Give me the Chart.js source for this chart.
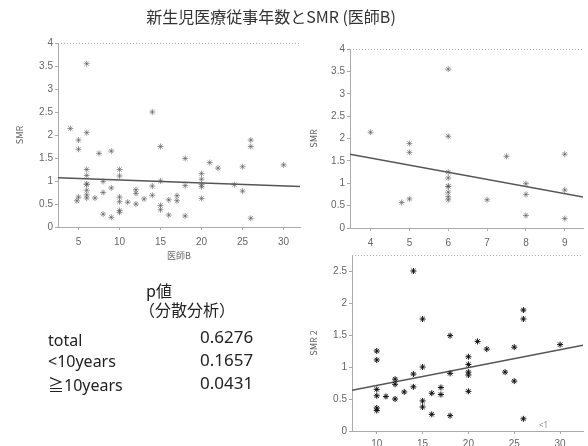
<!DOCTYPE html>
<html>
<head>
<meta charset="utf-8">
<script src="https://cdn.jsdelivr.net/npm/chart.js@4/dist/chart.umd.min.js"></script>
<style>
  body { margin: 0; background: #fff; }
  #wrap { position: relative; width: 588px; height: 446px; overflow: hidden; }
  canvas { position: absolute; left: 0; top: 0; }
  .t { position: absolute; white-space: nowrap; color: #222; line-height: 1; font-family: "Noto Sans", "Noto Sans CJK JP", sans-serif; font-size: 16px; }
  .num { font-size: 17px; }
</style>
</head>
<body>
<div id="wrap">
  <canvas id="allChart" width="588" height="446"></canvas>
  <canvas id="underChart" width="588" height="446"></canvas>
  <canvas id="overChart" width="588" height="446"></canvas>

  <div class="t" style="left:0;width:542px;top:8px;text-align:center;color:#333;font-family:'Noto Sans CJK JP',sans-serif;">新生児医療従事年数とSMR (医師B)</div>

  <div class="t" style="left:146px;top:282px;font-family:'Noto Sans CJK JP',sans-serif;">p値</div>
  <div class="t" style="left:139px;top:301px;font-family:'Noto Sans CJK JP',sans-serif;">（分散分析）</div>
  <div class="t" style="left:48px;top:332px;">total</div>
  <div class="t num" style="left:200px;top:328px;">0.6276</div>
  <div class="t" style="left:48px;top:353px;">&lt;10years</div>
  <div class="t num" style="left:200px;top:351px;">0.1657</div>
  <div class="t" style="left:48px;top:377px;">≧10years</div>
  <div class="t num" style="left:200px;top:374px;">0.0431</div>
  <div class="t" style="left:539px;top:421px;font-size:8px;color:#888;">&lt;1</div>
</div>

<script>
  // 医療従事年数 < 10
  const under10X = [4, 4.8, 5, 5, 5, 6, 6, 6, 6, 6, 6, 6, 6, 6, 7, 7.5, 8, 8, 8, 9, 9, 9];
  const under10Y = [2.14, 0.57, 1.89, 1.69, 0.65, 3.55, 2.05, 1.25, 1.12, 0.93, 0.93, 0.8, 0.7, 0.63, 0.63, 1.6, 0.99, 0.75, 0.28, 1.65, 0.85, 0.21];

  // 医療従事年数 >= 10
  const over10X = [10, 10, 10, 10, 10, 10, 11, 12, 12, 12, 13, 14, 14, 14, 15, 15, 15, 15, 16, 16, 17, 17, 18, 18, 18, 20, 20, 20, 20, 20, 21, 22, 24, 25, 25, 26, 26, 26, 30];
  const over10Y = [1.25, 1.11, 0.65, 0.55, 0.36, 0.32, 0.54, 0.81, 0.73, 0.5, 0.61, 2.5, 0.89, 0.69, 1.75, 1.0, 0.47, 0.375, 0.59, 0.26, 0.68, 0.57, 1.49, 0.9, 0.24, 1.16, 1.04, 0.92, 0.875, 0.62, 1.4, 1.28, 0.92, 1.31, 0.78, 1.89, 1.75, 0.19, 1.35];

  // regression lines (ends)
  const fitAllX = [2.5, 32];
  const fitAllY = [1.07, 0.88];
  const fitUnderX = [3.47, 9.5];
  const fitUnderY = [1.65, 0.69];
  const fitOverX = [7.3, 32.5];
  const fitOverY = [0.635, 1.34];

  // tick labels
  const xTicksAll = [5, 10, 15, 20, 25, 30];
  const xTicksUnder = [4, 5, 6, 7, 8, 9];
  const xTicksOver = [10, 15, 20, 25, 30];
  const yTicksSmr = [0, 0.5, 1, 1.5, 2, 2.5, 3, 3.5, 4];
  const yTicksSmr2 = [0, 0.5, 1, 1.5, 2, 2.5];

  const toPoints = (xs, ys) => xs.map((x, i) => ({ x: x, y: ys[i] }));

  const tickFont = { family: 'Liberation Sans', size: 10 };
  const titleFont = { family: 'Noto Sans CJK JP', size: 9 };

  // dotted line along the top of the plot
  const topBorder = {
    id: 'topBorder',
    afterDraw(chart) {
      const { ctx, chartArea: a } = chart;
      ctx.save();
      ctx.strokeStyle = '#aaa';
      ctx.lineWidth = 1;
      ctx.setLineDash([1, 2]);
      ctx.beginPath();
      ctx.moveTo(a.left, a.top + 0.5);
      ctx.lineTo(a.right, a.top + 0.5);
      ctx.stroke();
      ctx.restore();
    }
  };

  function starSet(xs, ys, color) {
    return {
      data: toPoints(xs, ys),
      pointStyle: 'star',
      pointRadius: 3,
      borderWidth: 1,
      borderColor: color,
      backgroundColor: color
    };
  }

  function fitSet(xs, ys) {
    return {
      data: toPoints(xs, ys),
      showLine: true,
      pointRadius: 0,
      borderColor: '#555',
      borderWidth: 1.5
    };
  }

  function scatterChart(id, o) {
    return new Chart(document.getElementById(id), {
      type: 'scatter',
      data: { datasets: o.datasets },
      options: {
        responsive: false,
        animation: false,
        layout: { padding: o.padding },
        plugins: { legend: { display: false }, tooltip: { enabled: false } },
        scales: {
          x: {
            type: 'linear',
            min: o.xMin,
            max: o.xMax,
            afterBuildTicks: s => { s.ticks = o.xTicks.map(v => ({ value: v })); },
            afterFit: s => { s.height = o.xHeight; },
            ticks: { font: tickFont, color: '#666', padding: o.xPad, maxRotation: 0, callback: v => String(v) },
            grid: { drawOnChartArea: false, tickLength: 3, color: '#aaa' },
            border: { color: '#aaa', dash: [1, 2] },
            title: { display: !!o.xTitle, text: o.xTitle || '', font: titleFont, color: '#666', padding: { top: 0, bottom: 2 } }
          },
          y: {
            min: 0,
            max: o.yMax,
            afterBuildTicks: s => { s.ticks = o.yTicks.map(v => ({ value: v })); },
            afterFit: s => { s.width = o.yWidth; },
            ticks: { font: tickFont, color: '#666', padding: 2, callback: v => String(v) },
            grid: { drawOnChartArea: false, tickLength: 3, color: '#aaa' },
            border: { color: '#aaa', dash: [1, 2] },
            title: { display: true, text: o.yTitle, font: titleFont, color: '#666' }
          }
        }
      },
      plugins: [topBorder]
    });
  }

  // total
  scatterChart('allChart', {
    datasets: [
      starSet(under10X, under10Y, 'rgba(90,90,90,0.6)'),
      starSet(over10X, over10Y, 'rgba(90,90,90,0.6)'),
      fitSet(fitAllX, fitAllY)
    ],
    padding: { left: 10, top: 43, right: 288, bottom: 183 },
    xMin: 2.5, xMax: 32, xTicks: xTicksAll, xHeight: 36, xPad: 6, xTitle: '医師B',
    yMax: 4, yTicks: yTicksSmr, yWidth: 48, yTitle: 'SMR'
  });

  // < 10 years
  scatterChart('underChart', {
    datasets: [
      starSet(under10X, under10Y, 'rgba(90,90,90,0.6)'),
      fitSet(fitUnderX, fitUnderY)
    ],
    padding: { left: 304, top: 49, right: 0, bottom: 198 },
    xMin: 3.47, xMax: 9.47, xTicks: xTicksUnder, xHeight: 20, xPad: 6,
    yMax: 4, yTicks: yTicksSmr, yWidth: 46, yTitle: 'SMR'
  });

  // >= 10 years
  scatterChart('overChart', {
    datasets: [
      starSet(over10X, over10Y, '#111'),
      fitSet(fitOverX, fitOverY)
    ],
    padding: { left: 304, top: 255, right: 0, bottom: 0 },
    xMin: 7.3, xMax: 32.5, xTicks: xTicksOver, xHeight: 15, xPad: 4,
    yMax: 2.75, yTicks: yTicksSmr2, yWidth: 48, yTitle: 'SMR 2'
  });
</script>
</body>
</html>
